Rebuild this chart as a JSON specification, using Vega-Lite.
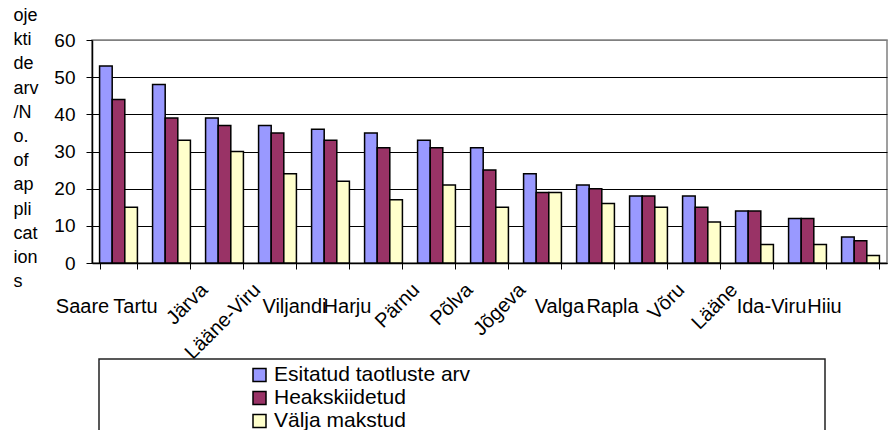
{
  "$schema": "https://vega.github.io/schema/vega-lite/v6.json",
  "width": 795,
  "height": 223,
  "autosize": {"type": "none"},
  "padding": {"left": 92, "top": 40, "right": 3, "bottom": 167},
  "background": "white",
  "config": {
    "font": "Liberation Sans",
    "view": {"stroke": "#808080", "strokeWidth": 1.5},
    "axis": {"labelFont": "Liberation Sans", "titleFont": "Liberation Sans", "labelColor": "black", "titleColor": "black", "domainColor": "black", "tickColor": "black"},
    "legend": {"strokeWidth": 1.5}
  },
  "data": {
    "values": [
      {"county": "Saare", "series": "Esitatud taotluste arv", "value": 53},
      {"county": "Saare", "series": "Heakskiidetud", "value": 44},
      {"county": "Saare", "series": "Välja makstud", "value": 15},
      {"county": "Tartu", "series": "Esitatud taotluste arv", "value": 48},
      {"county": "Tartu", "series": "Heakskiidetud", "value": 39},
      {"county": "Tartu", "series": "Välja makstud", "value": 33},
      {"county": "Järva", "series": "Esitatud taotluste arv", "value": 39},
      {"county": "Järva", "series": "Heakskiidetud", "value": 37},
      {"county": "Järva", "series": "Välja makstud", "value": 30},
      {"county": "Lääne-Viru", "series": "Esitatud taotluste arv", "value": 37},
      {"county": "Lääne-Viru", "series": "Heakskiidetud", "value": 35},
      {"county": "Lääne-Viru", "series": "Välja makstud", "value": 24},
      {"county": "Viljandi", "series": "Esitatud taotluste arv", "value": 36},
      {"county": "Viljandi", "series": "Heakskiidetud", "value": 33},
      {"county": "Viljandi", "series": "Välja makstud", "value": 22},
      {"county": "Harju", "series": "Esitatud taotluste arv", "value": 35},
      {"county": "Harju", "series": "Heakskiidetud", "value": 31},
      {"county": "Harju", "series": "Välja makstud", "value": 17},
      {"county": "Pärnu", "series": "Esitatud taotluste arv", "value": 33},
      {"county": "Pärnu", "series": "Heakskiidetud", "value": 31},
      {"county": "Pärnu", "series": "Välja makstud", "value": 21},
      {"county": "Põlva", "series": "Esitatud taotluste arv", "value": 31},
      {"county": "Põlva", "series": "Heakskiidetud", "value": 25},
      {"county": "Põlva", "series": "Välja makstud", "value": 15},
      {"county": "Jõgeva", "series": "Esitatud taotluste arv", "value": 24},
      {"county": "Jõgeva", "series": "Heakskiidetud", "value": 19},
      {"county": "Jõgeva", "series": "Välja makstud", "value": 19},
      {"county": "Valga", "series": "Esitatud taotluste arv", "value": 21},
      {"county": "Valga", "series": "Heakskiidetud", "value": 20},
      {"county": "Valga", "series": "Välja makstud", "value": 16},
      {"county": "Rapla", "series": "Esitatud taotluste arv", "value": 18},
      {"county": "Rapla", "series": "Heakskiidetud", "value": 18},
      {"county": "Rapla", "series": "Välja makstud", "value": 15},
      {"county": "Võru", "series": "Esitatud taotluste arv", "value": 18},
      {"county": "Võru", "series": "Heakskiidetud", "value": 15},
      {"county": "Võru", "series": "Välja makstud", "value": 11},
      {"county": "Lääne", "series": "Esitatud taotluste arv", "value": 14},
      {"county": "Lääne", "series": "Heakskiidetud", "value": 14},
      {"county": "Lääne", "series": "Välja makstud", "value": 5},
      {"county": "Ida-Viru", "series": "Esitatud taotluste arv", "value": 12},
      {"county": "Ida-Viru", "series": "Heakskiidetud", "value": 12},
      {"county": "Ida-Viru", "series": "Välja makstud", "value": 5},
      {"county": "Hiiu", "series": "Esitatud taotluste arv", "value": 7},
      {"county": "Hiiu", "series": "Heakskiidetud", "value": 6},
      {"county": "Hiiu", "series": "Välja makstud", "value": 2}
    ]
  },
  "encoding": {
    "x": {
      "field": "county",
      "type": "nominal",
      "sort": null,
      "scale": {"paddingInner": 0.286, "paddingOuter": 0.143},
      "axis": {"title": null, "labels": false, "ticks": true, "tickBand": "extent", "tickSize": 6, "tickWidth": 1, "domainWidth": 1.5, "grid": false}
    },
    "y": {
      "field": "value",
      "type": "quantitative",
      "scale": {"domain": [0, 60], "nice": false},
      "axis": {
        "values": [0, 10, 20, 30, 40, 50, 60],
        "grid": true,
        "gridColor": {"condition": {"test": "datum.value == 60", "value": "#808080"}, "value": "black"},
        "gridWidth": 1,
        "tickSize": 6,
        "tickWidth": 1,
        "domainWidth": 1.5,
        "labelFontSize": 19,
        "labelPadding": 11,
        "title": ["oje", "kti", "de", "arv", "/N", "o.", "of", "ap", "pli", "cat", "ion", "s"],
        "titleAngle": 0,
        "titleAlign": "left",
        "titleBaseline": "alphabetic",
        "titleX": -79,
        "titleY": -19.5,
        "titleFontSize": 18,
        "titleFontWeight": "normal",
        "titleLineHeight": 24.2
      }
    }
  },
  "layer": [
    {
      "mark": {"type": "bar", "stroke": "black", "strokeWidth": 1.5},
      "encoding": {
        "xOffset": {"field": "series", "type": "nominal", "sort": null, "scale": {"paddingInner": 0, "paddingOuter": 0}},
        "color": {
          "field": "series",
          "type": "nominal",
          "scale": {"domain": ["Esitatud taotluste arv", "Heakskiidetud", "Välja makstud"], "range": ["#9999FF", "#993366", "#FFFFCC"]},
          "legend": {
            "orient": "none",
            "legendX": 7,
            "legendY": 319,
            "direction": "vertical",
            "padding": 1,
            "strokeColor": "#222222",
            "fillColor": "white",
            "title": "WWWWWWWWWWWWWWWWWWWWWWWWWWWWWWWWWWWWWWWWWWWWWWWWWWWWWWWWWWWWWWWWWWWWWWWWWWWWWWWWWWWWWWWWWWWWWWWWWWWWWWWWWWWWWWWWWWWWWWWWWWWWWWWWWWWWWWWWWWWWWWWWWWWWWWWWWWWWWWWWWWWWWWWWWWWWWWWWWWWWWWWWWWWWWWWWWWWWWWWWWWWWWWWWWWWWWWWWWWWWWWWWWWWWWWWWWWWWWWWWWWWWWWWWWWWWWWWWWWWWWWWWWWWWWWWWWWWWWWWWWWWWWWWWWWWWWWWWWWWWWWWWWWWWWWWWWWWWWWWWWWWWWWWWWWWWWWWWWWWWWWWWWWWWWWWWWWWWWWWWWWWWWWWWW",
            "titleOrient": "top",
            "titleAnchor": "start",
            "titleAlign": "left",
            "titleColor": "white",
            "titleFontSize": 2.09,
            "titleLimit": 2000,
            "titlePadding": 2.5,
            "symbolType": "square",
            "symbolSize": 169,
            "symbolOffset": 149,
            "symbolStrokeColor": "black",
            "symbolStrokeWidth": 1.5,
            "symbolOpacity": 1,
            "labelFont": "Liberation Sans",
            "labelFontSize": 21,
            "labelColor": "black",
            "labelOffset": 4,
            "labelLimit": 1000,
            "rowPadding": 1
          }
        }
      }
    },
    {
      "transform": [
        {"filter": {"field": "series", "equal": "Esitatud taotluste arv"}},
        {"filter": {"field": "county", "oneOf": ["Saare", "Tartu", "Viljandi", "Harju", "Valga", "Rapla", "Ida-Viru", "Hiiu"]}}
      ],
      "mark": {"type": "text", "align": "center", "baseline": "middle", "font": "Liberation Sans", "fontSize": 20, "color": "black", "xOffset": -36, "yOffset": 44},
      "encoding": {
        "y": {"datum": 0, "type": "quantitative"},
        "text": {"field": "county", "type": "nominal"}
      }
    },
    {
      "transform": [
        {"filter": {"field": "series", "equal": "Esitatud taotluste arv"}},
        {"filter": {"field": "county", "oneOf": ["Järva", "Lääne-Viru", "Pärnu", "Põlva", "Jõgeva", "Võru", "Lääne"]}}
      ],
      "mark": {"type": "text", "align": "right", "baseline": "middle", "angle": -45, "font": "Liberation Sans", "fontSize": 20, "color": "black", "xOffset": -20, "yOffset": 24},
      "encoding": {
        "y": {"datum": 0, "type": "quantitative"},
        "text": {"field": "county", "type": "nominal"}
      }
    }
  ]
}
